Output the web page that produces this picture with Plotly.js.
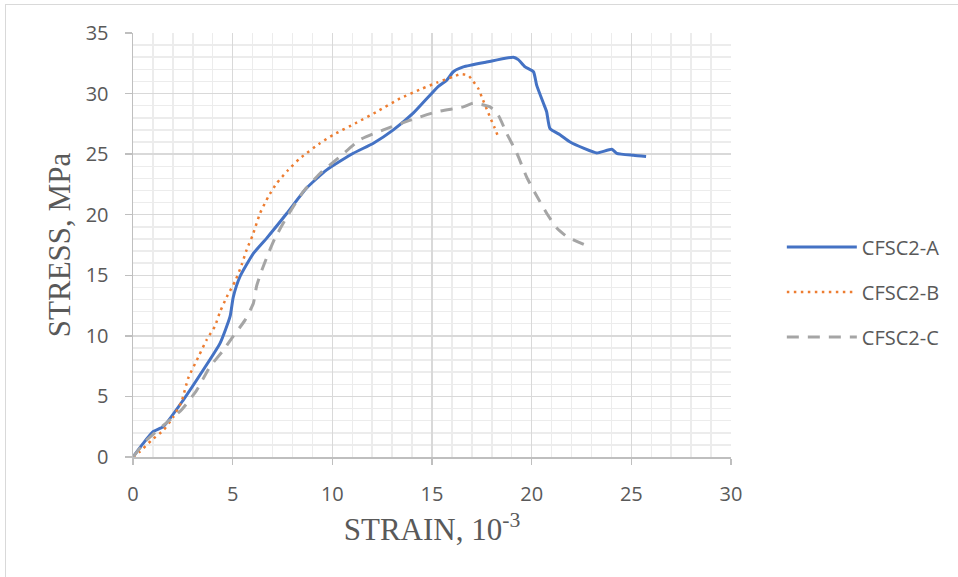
<!DOCTYPE html>
<html><head><meta charset="utf-8">
<script src="https://cdn.plot.ly/plotly-3.0.1.min.js"></script>
<style>
html,body{margin:0;padding:0;background:#fff;}
#frame{position:absolute;left:5px;top:4px;width:1000px;height:700px;border:1px solid #d9d9d9;box-sizing:border-box;}
#chart{position:absolute;left:0;top:0;width:958px;height:577px;}
</style></head>
<body>
<div id="frame"></div>
<div id="chart"></div>
<script>
const seriesNames = ["CFSC2-A", "CFSC2-B", "CFSC2-C"];
const strainA = [0, 0.5, 1.02, 1.52, 2.52, 3.53, 4.37, 4.87, 5.03, 5.37, 6.04, 6.7, 7.71, 8.71, 9.72, 11.05, 12.06, 13.06, 14.07, 15.32, 15.74, 16.07, 16.57, 17.74, 19.08, 19.33, 19.67, 20.09, 20.25, 20.59, 20.75, 20.92, 21.42, 21.93, 22.6, 23.27, 24.02, 24.27, 25.1, 25.74];
const stressA = [0, 1.1, 2.1, 2.5, 4.7, 7.2, 9.4, 11.6, 13.2, 14.9, 16.8, 18.05, 20.1, 22.2, 23.7, 25.07, 25.9, 27.0, 28.4, 30.6, 31.1, 31.8, 32.2, 32.6, 33.0, 32.8, 32.2, 31.8, 30.7, 29.2, 28.5, 27.1, 26.6, 26.0, 25.5, 25.1, 25.4, 25.07, 24.9, 24.8];
const strainB = [0, 0.35, 0.94, 1.52, 2.02, 2.44, 2.77, 3.32, 3.69, 4.11, 4.37, 4.7, 5.12, 5.45, 5.7, 6.0, 6.37, 6.79, 7.21, 7.79, 8.38, 9.38, 10.05, 11.22, 12.23, 13.4, 14.49, 15.24, 16.07, 16.44, 16.82, 17.07, 17.33, 17.5, 17.8, 17.95, 18.11, 18.28];
const stressB = [0, 0.45, 1.4, 2.2, 3.3, 4.6, 6.5, 8.4, 9.66, 10.8, 12.0, 13.2, 14.5, 15.85, 17.1, 18.3, 20.1, 21.5, 22.6, 23.7, 24.66, 25.9, 26.6, 27.6, 28.5, 29.6, 30.4, 30.9, 31.4, 31.6, 31.5, 31.0, 30.4, 29.7, 28.5, 27.9, 27.3, 26.6];
const strainC = [0, 0.69, 1.52, 2.44, 3.19, 3.86, 4.53, 4.95, 5.62, 6.04, 6.2, 6.46, 6.79, 7.12, 7.71, 8.54, 9.38, 10.39, 11.39, 12.56, 13.73, 15.24, 16.57, 17.07, 17.91, 18.33, 18.75, 19.25, 19.75, 20.17, 20.76, 21.26, 21.76, 22.68];
const stressC = [0, 1.4, 2.6, 3.9, 5.5, 7.45, 8.8, 9.8, 11.3, 12.7, 14.1, 15.4, 16.8, 18.05, 19.8, 21.9, 23.4, 24.8, 26.2, 27.0, 27.7, 28.5, 28.9, 29.2, 28.9, 28.2, 26.7, 25.1, 23.1, 21.8, 20.1, 18.9, 18.2, 17.5];
const xTicks = [0, 5, 10, 15, 20, 25, 30];
const yTicks = [0, 5, 10, 15, 20, 25, 30, 35];

const tickFont = {family: "Open Sans, Noto Sans, sans-serif", size: 20, color: "#595959"};
const titleFont = {family: "Liberation Serif, Times New Roman, serif", size: 31, color: "#595959"};
const traces = [
  {x: strainA, y: stressA, name: seriesNames[0], legendgroup: "a", mode: "lines",
   line: {color: "#4472C4", width: 3, shape: "spline", smoothing: 0.5}},
  {x: strainB, y: stressB, name: seriesNames[1], legendgroup: "b", mode: "lines",
   line: {color: "#ED7D31", width: 2.5, dash: "2.5px,4.5px", shape: "spline", smoothing: 0.5}},
  {x: strainC, y: stressC, name: seriesNames[2], legendgroup: "c", mode: "lines",
   line: {color: "#A5A5A5", width: 3, dash: "12px,9px", shape: "spline", smoothing: 0.5}}
];
const layout = {
  width: 958, height: 577,
  margin: {l: 133, r: 227, t: 33, b: 120},
  paper_bgcolor: "rgba(0,0,0,0)", plot_bgcolor: "#fff",
  showlegend: true,
  legend: {x: 1.085, y: 0.389, xanchor: "left", yanchor: "middle", itemwidth: 70,
    font: {family: "Open Sans, Noto Sans, sans-serif", size: 20, color: "#595959"},
    traceorder: "grouped", tracegroupgap: 16, bgcolor: "rgba(0,0,0,0)"},
  xaxis: {range: [0, 30], tickvals: xTicks, ticktext: xTicks.map(String),
    showgrid: true, gridcolor: "#d9d9d9", gridwidth: 1.5,
    minor: {dtick: 1, showgrid: true, gridcolor: "#ececec", gridwidth: 1.5, ticks: ""},
    showline: true, linecolor: "#bfbfbf", linewidth: 1.5,
    ticks: "outside", ticklen: 6, tickcolor: "#bfbfbf", tickwidth: 1.5, ticklabelstandoff: 12,
    zeroline: false, tickfont: tickFont, fixedrange: true, automargin: false,
    title: {text: "STRAIN, 10<sup>-3</sup>", standoff: 13, font: titleFont}},
  yaxis: {range: [0, 35], tickvals: yTicks, ticktext: yTicks.map(String),
    showgrid: true, gridcolor: "#d9d9d9", gridwidth: 1.5,
    minor: {dtick: 1, showgrid: true, gridcolor: "#ececec", gridwidth: 1.5, ticks: ""},
    showline: true, linecolor: "#bfbfbf", linewidth: 1.5,
    ticks: "outside", ticklen: 7, tickcolor: "#bfbfbf", tickwidth: 1.5, ticklabelstandoff: 12,
    zeroline: false, tickfont: tickFont, fixedrange: true, automargin: false,
    title: {text: "STRESS, MPa", standoff: 6, font: titleFont}}
};
Plotly.newPlot("chart", traces, layout, {displayModeBar: false, staticPlot: true});
</script>
</body></html>
